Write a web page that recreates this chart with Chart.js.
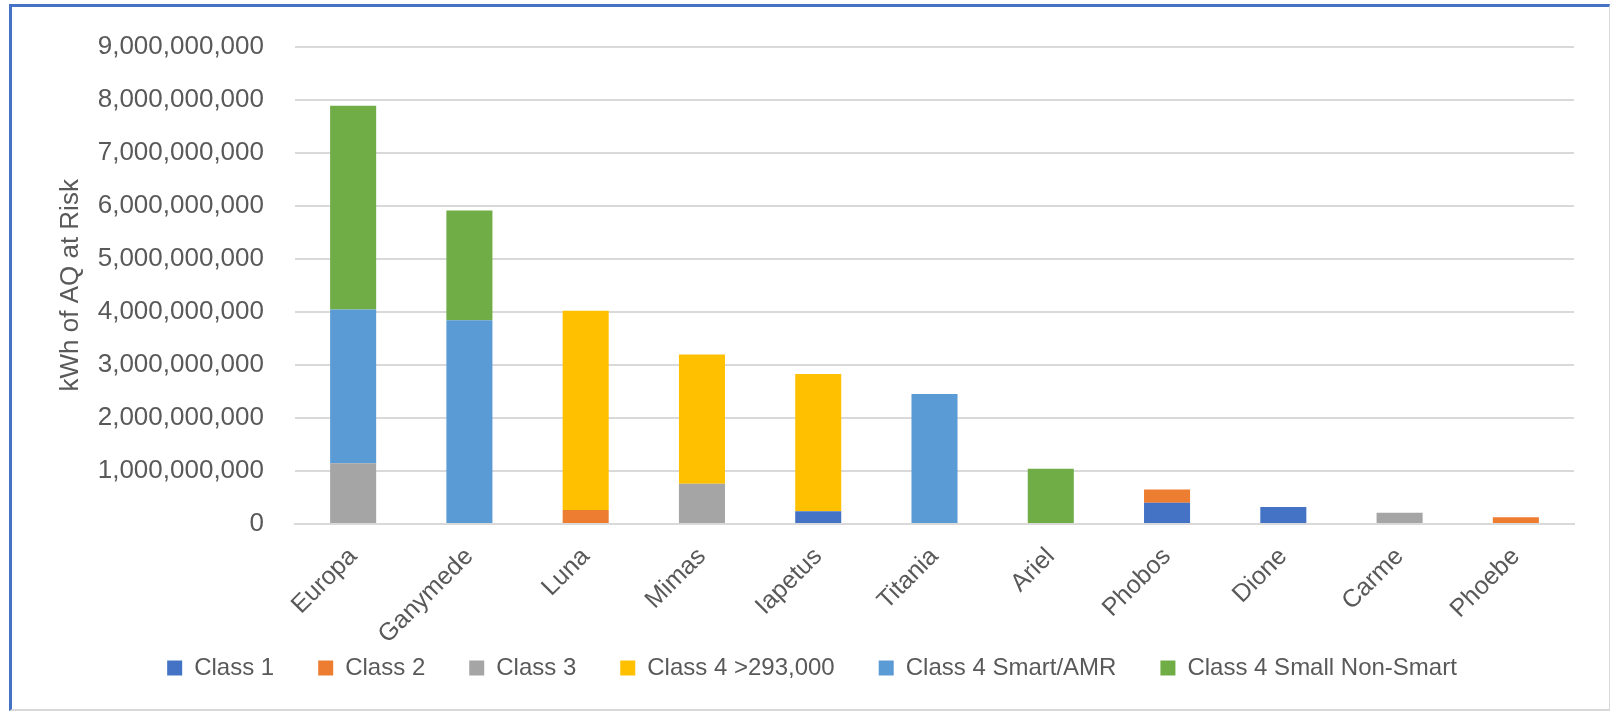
<!DOCTYPE html>
<html>
<head>
<meta charset="utf-8">
<script src="https://cdn.jsdelivr.net/npm/chart.js@4.4.0/dist/chart.umd.min.js"></script>
<style>
  html, body { margin: 0; padding: 0; background: #ffffff; }
  #frame {
    position: absolute; left: 9px; top: 4px; width: 1597px; height: 702px;
    border-left: 3px solid #4472C4; border-top: 3px solid #4472C4;
    border-right: 1px solid #d9d9d9; border-bottom: 2px solid #d9d9d9;
    background: #fff;
  }
  #grafik { position: absolute; left: 0; top: 0; }
</style>
</head>
<body>
<div id="frame"></div>
<canvas id="grafik" width="1612" height="711"></canvas>
<script>
const moons = ['Europa', 'Ganymede', 'Luna', 'Mimas', 'Iapetus', 'Titania', 'Ariel', 'Phobos', 'Dione', 'Carme', 'Phoebe'];

const class1      = [null, null, null, null, 0.24e9, null, null, 0.40e9, 0.32e9, null, null];
const class2      = [null, null, 0.265e9, null, null, null, null, 0.25e9, null, null, 0.126e9];
const class3      = [1.145e9, null, null, 0.76e9, null, null, null, null, null, 0.21e9, null];
const class4Big   = [null, null, 3.755e9, 2.435e9, 2.59e9, null, null, null, null, null, null];
const class4Smart = [2.9e9, 3.84e9, null, null, null, 2.45e9, null, null, null, null, null];
const class4Small = [3.84e9, 2.07e9, null, null, null, null, 1.04e9, null, null, null, null];

const yTicks = [0, 1e9, 2e9, 3e9, 4e9, 5e9, 6e9, 7e9, 8e9, 9e9];

const txt = '#595959';
const fam = '"Liberation Sans", Arial, sans-serif';

make_chart = () => {
	const ctx = document.getElementById('grafik');
	const ds = (label, data, color) => ({
		label: label, data: data, backgroundColor: color, borderWidth: 0,
		categoryPercentage: 1, barPercentage: 0.396
	});

	new Chart(ctx, {
		type: 'bar',
		data: {
			labels: moons,
			datasets: [
				ds('Class 1', class1, '#4472C4'),
				ds('Class 2', class2, '#ED7D31'),
				ds('Class 3', class3, '#A5A5A5'),
				ds('Class 4 >293,000', class4Big, '#FFC000'),
				ds('Class 4 Smart/AMR', class4Smart, '#5B9BD5'),
				ds('Class 4 Small Non-Smart', class4Small, '#70AD47')
			]
		},
		options: {
			responsive: false,
			animation: false,
			layout: { padding: { left: 50, right: 38, top: 44, bottom: 21 } },
			plugins: {
				tooltip: { enabled: false },
				legend: {
					position: 'bottom',
					labels: {
						boxWidth: 15, boxHeight: 15, padding: 44, color: txt,
						font: { family: fam, size: 24 }
					}
				}
			},
			scales: {
				x: {
					stacked: true,
					grid: { display: false, drawTicks: false },
					border: { display: true, color: '#d9d9d9', width: 2 },
					ticks: {
						color: txt, font: { family: fam, size: 25 },
						minRotation: 45, maxRotation: 45, padding: 18
					},
					afterFit: (s) => {
						s.height = 88;
						// let the slanted names run past the axis box, as in the original
						s._computeLabelArea = () => undefined;
					}
				},
				y: {
					stacked: true,
					min: 0, max: 9e9,
					afterBuildTicks: (s) => { s.ticks = yTicks.map(v => ({ value: v })); },
					grid: { color: '#d9d9d9', lineWidth: 2, drawTicks: false },
					border: { display: false },
					ticks: {
						color: txt, font: { family: fam, size: 26 }, padding: 31,
						callback: (v) => v.toLocaleString('en-US')
					},
					title: {
						display: true, text: 'kWh of AQ at Risk', color: txt,
						font: { family: fam, size: 26 }, padding: { top: 5, bottom: 0 }
					},
					afterFit: (s) => { s.width = 245; }
				}
			}
		}
	});
}

make_chart();
</script>
</body>
</html>
